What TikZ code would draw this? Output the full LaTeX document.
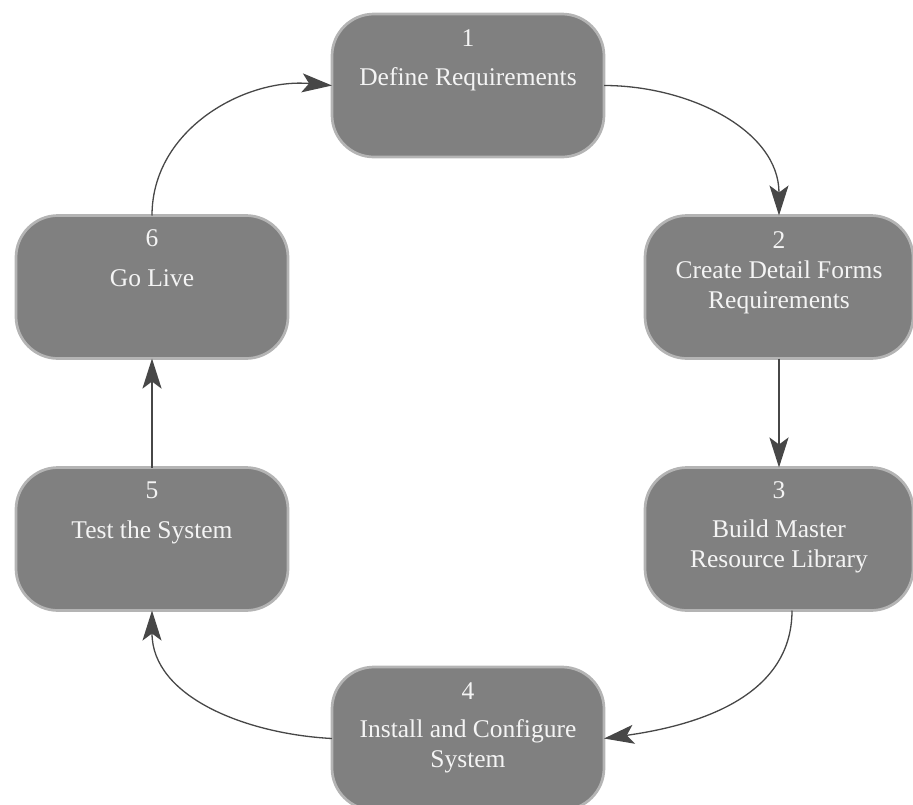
\documentclass[tikz,border=0pt]{standalone}
\usepackage{fontspec}
\setmainfont{Liberation Serif}
\usetikzlibrary{arrows.meta}
\definecolor{boxfill}{HTML}{808080}
\definecolor{boxline}{HTML}{B4B4B4}
\definecolor{arrowc}{HTML}{474747}
\definecolor{boxtext}{HTML}{F4F4F4}
\begin{document}
\begin{tikzpicture}[x=1pt,y=-1pt,
  stepbox/.style={draw=boxline, line width=2.7pt, fill=boxfill, rounded corners=42pt,
    minimum width=272pt, minimum height=143pt, inner sep=0pt, outer sep=0pt},
  narrowbox/.style={stepbox, minimum width=268pt},
  steptext/.style={anchor=north, align=center, text=boxtext,
    font=\fontsize{25.5}{30}\selectfont, inner sep=0pt},
  flow/.style={draw=arrowc, line width=1.3pt, line join=miter,
    -{Stealth[length=30pt,width=19pt,inset=7pt]}},
  flowthick/.style={flow, line width=2.7pt}]
\useasboundingbox (0,0) rectangle (913,804);

\node[stepbox]   (n1) at (468,85.5) {};
\node[narrowbox] (n2) at (779,287) {};
\node[narrowbox] (n3) at (779,539) {};
\node[stepbox]   (n4) at (468,738.5) {};
\node[stepbox]   (n5) at (152,539) {};
\node[stepbox]   (n6) at (152,287) {};

\node[steptext] (t1) at ([yshift=-15pt]n1.north) {1\\[9pt]Define Requirements};
\node[steptext] (t2) at ([yshift=-16pt]n2.north) {2\\Create Detail Forms\\Requirements};
\node[steptext] (t3) at ([yshift=-14pt]n3.north) {3\\[9pt]Build Master\\Resource Library};
\node[steptext] (t4) at ([yshift=-16pt]n4.north) {4\\[8pt]Install and Configure\\System};
\node[steptext] (t5) at ([yshift=-14pt]n5.north) {5\\[10pt]Test the System};
\node[steptext] (t6) at ([yshift=-14pt]n6.north) {6\\[10pt]Go Live};

\draw[flow] (n1.east) to[out=0,in=90] (n2.north);
\draw[flowthick] (n2.south) -- (n3.north);
\draw[flow] ([xshift=13pt]n3.south) to[out=-90,in=8] (n4.east);
\draw[flow] (n4.west) to[out=177,in=-90] (n5.south);
\draw[flowthick] (n5.north) -- (n6.south);
\draw[flow] (n6.north) to[out=90,in=175] (n1.west);
\end{tikzpicture}
\end{document}
